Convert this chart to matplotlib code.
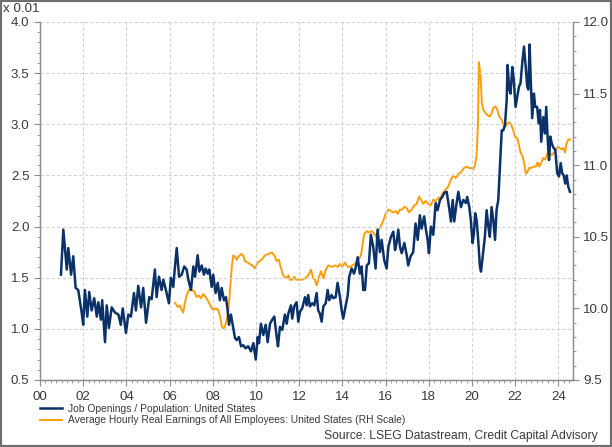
import matplotlib
matplotlib.use("Agg")
import matplotlib.pyplot as plt
from matplotlib.ticker import MultipleLocator, FixedLocator
from matplotlib.patches import Rectangle

plt.rcParams['font.family'] = ['Liberation Sans', 'DejaVu Sans']

# Job openings / population (left scale, x 0.01), decimal years
job_years = [
    2000.97, 2001.08, 2001.24, 2001.31, 2001.44, 2001.54, 2001.65, 2001.77, 2001.93, 2002.00,
    2002.08, 2002.19, 2002.28, 2002.39, 2002.51, 2002.63, 2002.70, 2002.82, 2002.88, 2003.01,
    2003.09, 2003.19, 2003.32, 2003.47, 2003.63, 2003.74, 2003.83, 2003.98, 2004.09, 2004.21,
    2004.35, 2004.44, 2004.55, 2004.68, 2004.78, 2004.91, 2005.06, 2005.17, 2005.32, 2005.40,
    2005.51, 2005.63, 2005.71, 2005.83, 2005.97, 2006.06, 2006.17, 2006.25, 2006.33, 2006.44,
    2006.56, 2006.68, 2006.79, 2006.87, 2006.99, 2007.10, 2007.18, 2007.30, 2007.38, 2007.49,
    2007.59, 2007.67, 2007.76, 2007.84, 2007.95, 2008.02, 2008.13, 2008.23, 2008.33, 2008.41,
    2008.52, 2008.61, 2008.69, 2008.75, 2008.84, 2008.95, 2009.03, 2009.11, 2009.21, 2009.31,
    2009.41, 2009.52, 2009.64, 2009.77, 2009.88, 2009.99, 2010.08, 2010.14, 2010.23, 2010.34,
    2010.45, 2010.54, 2010.65, 2010.75, 2010.85, 2010.96, 2011.02, 2011.11, 2011.22, 2011.34,
    2011.42, 2011.50, 2011.62, 2011.68, 2011.77, 2011.88, 2011.96, 2012.04, 2012.14, 2012.27,
    2012.35, 2012.42, 2012.50, 2012.61, 2012.70, 2012.81, 2012.88, 2012.96, 2013.04, 2013.12,
    2013.23, 2013.32, 2013.39, 2013.50, 2013.58, 2013.69, 2013.78, 2013.89, 2013.97, 2014.04,
    2014.15, 2014.25, 2014.32, 2014.43, 2014.54, 2014.63, 2014.71, 2014.81, 2014.89, 2014.97,
    2015.05, 2015.13, 2015.23, 2015.32, 2015.43, 2015.54, 2015.63, 2015.74, 2015.82, 2015.94,
    2016.05, 2016.13, 2016.25, 2016.36, 2016.44, 2016.51, 2016.59, 2016.67, 2016.75, 2016.87,
    2016.98, 2017.05, 2017.16, 2017.28, 2017.39, 2017.49, 2017.59, 2017.67, 2017.79, 2017.87,
    2017.95, 2018.01, 2018.10, 2018.21, 2018.32, 2018.41, 2018.52, 2018.63, 2018.72, 2018.83,
    2018.94, 2019.03, 2019.11, 2019.18, 2019.29, 2019.37, 2019.49, 2019.60, 2019.72, 2019.78,
    2019.88, 2019.95, 2020.03, 2020.09, 2020.15, 2020.22, 2020.29, 2020.37, 2020.42, 2020.50,
    2020.60, 2020.68, 2020.76, 2020.83, 2020.91, 2020.99, 2021.07, 2021.14, 2021.22, 2021.30,
    2021.38, 2021.45, 2021.53, 2021.61, 2021.65, 2021.73, 2021.79, 2021.87, 2021.94, 2022.02,
    2022.10, 2022.18, 2022.25, 2022.33, 2022.41, 2022.49, 2022.56, 2022.61, 2022.67, 2022.73,
    2022.79, 2022.87, 2022.93, 2023.02, 2023.09, 2023.15, 2023.21, 2023.30, 2023.38, 2023.44,
    2023.51, 2023.57, 2023.63, 2023.70, 2023.78, 2023.86, 2023.95, 2024.03, 2024.11, 2024.18,
    2024.25, 2024.32, 2024.39, 2024.46, 2024.54,
]
job_values = [
    1.53, 1.97, 1.58, 1.79, 1.53, 1.71, 1.40, 1.38, 1.16, 1.04,
    1.38, 1.12, 1.36, 1.18, 1.30, 1.12, 1.26, 1.09, 1.28, 0.87,
    1.23, 1.01, 1.21, 1.16, 1.14, 1.04, 1.20, 0.96, 1.14, 1.12,
    1.35, 1.18, 1.42, 1.21, 1.40, 1.06, 1.31, 1.29, 1.58, 1.31,
    1.51, 1.38, 1.48, 1.38, 1.25, 1.50, 1.41, 1.61, 1.79, 1.51,
    1.53, 1.61, 1.58, 1.48, 1.38, 1.61, 1.51, 1.72, 1.56, 1.62,
    1.53, 1.59, 1.54, 1.58, 1.41, 1.53, 1.35, 1.45, 1.28, 1.40,
    1.28, 1.31, 1.18, 1.04, 1.14, 1.01, 0.91, 0.89, 0.92, 0.83,
    0.84, 0.81, 0.83, 0.78, 0.86, 0.70, 0.92, 0.86, 1.05, 0.94,
    1.04, 0.87, 1.05, 1.09, 1.12, 0.92, 0.83, 1.02, 0.99, 1.14,
    1.05, 1.15, 1.23, 1.10, 1.22, 1.26, 1.07, 1.17, 1.20, 1.31,
    1.23, 1.33, 1.22, 1.25, 1.23, 1.35, 1.18, 1.15, 1.07, 1.22,
    1.25, 1.38, 1.28, 1.33, 1.30, 1.31, 1.45, 1.31, 1.18, 1.10,
    1.22, 1.33, 1.51, 1.59, 1.54, 1.61, 1.70, 1.54, 1.61, 1.38,
    1.38, 1.62, 1.64, 1.92, 1.80, 1.59, 1.97, 1.75, 1.87, 1.67,
    1.59, 1.80, 1.90, 1.95, 1.77, 1.84, 1.97, 1.80, 1.74, 1.84,
    1.72, 1.62, 1.71, 1.75, 2.03, 1.87, 2.11, 1.98, 2.10, 1.97,
    1.87, 1.74, 2.00, 1.92, 2.23, 2.16, 2.26, 2.29, 2.33, 2.34,
    2.19, 2.05, 2.26, 2.05, 2.23, 2.34, 2.19, 2.26, 2.23, 2.29,
    2.19, 2.06, 1.84, 1.93, 2.13, 2.06, 1.87, 1.61, 1.56, 1.71,
    1.90, 2.16, 2.00, 1.90, 2.19, 2.06, 1.87, 2.16, 2.26, 2.59,
    2.94, 2.94, 2.99, 3.24, 3.58, 3.34, 3.30, 3.56, 3.43, 3.17,
    3.27, 3.37, 3.40, 3.60, 3.76, 3.56, 3.37, 3.34, 3.78, 3.40,
    3.06, 3.30, 3.17, 3.17, 3.01, 3.14, 2.83, 3.07, 2.91, 3.17,
    2.85, 2.65, 2.88, 2.81, 2.77, 2.75, 2.52, 2.49, 2.62, 2.52,
    2.50, 2.42, 2.50, 2.39, 2.34,
]

# Average hourly real earnings (right scale)
earn_years = [
    2006.25, 2006.38, 2006.48, 2006.56, 2006.63, 2006.71, 2006.79, 2006.90, 2007.02, 2007.14,
    2007.25, 2007.36, 2007.45, 2007.56, 2007.67, 2007.79, 2007.92, 2008.02, 2008.13, 2008.25,
    2008.33, 2008.41, 2008.49, 2008.56, 2008.64, 2008.72, 2008.80, 2008.88, 2008.95, 2009.03,
    2009.11, 2009.18, 2009.31, 2009.41, 2009.49, 2009.62, 2009.72, 2009.83, 2009.95, 2010.08,
    2010.26, 2010.42, 2010.57, 2010.73, 2010.85, 2010.96, 2011.06, 2011.16, 2011.26, 2011.38,
    2011.50, 2011.57, 2011.68, 2011.77, 2011.88, 2011.99, 2012.12, 2012.27, 2012.42, 2012.55,
    2012.65, 2012.73, 2012.81, 2012.92, 2013.01, 2013.12, 2013.23, 2013.35, 2013.50, 2013.66,
    2013.78, 2013.89, 2014.00, 2014.12, 2014.25, 2014.35, 2014.46, 2014.58, 2014.74, 2014.86,
    2014.92, 2015.01, 2015.13, 2015.23, 2015.36, 2015.48, 2015.56, 2015.66, 2015.79, 2015.89,
    2016.00, 2016.13, 2016.25, 2016.36, 2016.47, 2016.56, 2016.67, 2016.77, 2016.87, 2016.98,
    2017.08, 2017.21, 2017.33, 2017.44, 2017.55, 2017.64, 2017.75, 2017.86, 2017.98, 2018.10,
    2018.21, 2018.32, 2018.44, 2018.56, 2018.67, 2018.78, 2018.90, 2019.03, 2019.13, 2019.25,
    2019.37, 2019.49, 2019.63, 2019.75, 2019.88, 2019.99, 2020.06, 2020.14, 2020.22, 2020.28,
    2020.32, 2020.40, 2020.46, 2020.52, 2020.60, 2020.71, 2020.83, 2020.91, 2020.99, 2021.08,
    2021.17, 2021.24, 2021.30, 2021.38, 2021.45, 2021.54, 2021.63, 2021.73, 2021.79, 2021.88,
    2021.99, 2022.10, 2022.16, 2022.25, 2022.35, 2022.42, 2022.50, 2022.56, 2022.64, 2022.73,
    2022.84, 2022.96, 2023.04, 2023.12, 2023.19, 2023.30, 2023.39, 2023.49, 2023.58, 2023.66,
    2023.76, 2023.89, 2024.00, 2024.07, 2024.15, 2024.23, 2024.31, 2024.38, 2024.46, 2024.54,
]
earn_values = [
    10.04, 10.01, 10.02, 9.99, 9.97, 10.04, 10.09, 10.13, 10.13, 10.12,
    10.08, 10.09, 10.07, 10.10, 10.08, 10.05, 10.01, 9.99, 10.00, 9.99,
    9.95, 9.88, 9.86, 9.87, 9.92, 9.98, 10.13, 10.29, 10.37, 10.36,
    10.34, 10.36, 10.38, 10.37, 10.33, 10.32, 10.31, 10.30, 10.28, 10.32,
    10.34, 10.37, 10.38, 10.39, 10.37, 10.33, 10.34, 10.28, 10.23, 10.21,
    10.23, 10.20, 10.20, 10.22, 10.20, 10.20, 10.20, 10.21, 10.23, 10.27,
    10.21, 10.20, 10.16, 10.22, 10.26, 10.21, 10.27, 10.30, 10.29, 10.30,
    10.29, 10.31, 10.29, 10.32, 10.29, 10.29, 10.30, 10.31, 10.34, 10.37,
    10.43, 10.52, 10.54, 10.53, 10.54, 10.52, 10.50, 10.54, 10.58, 10.61,
    10.66, 10.69, 10.68, 10.67, 10.68, 10.66, 10.69, 10.69, 10.71, 10.70,
    10.67, 10.69, 10.72, 10.73, 10.78, 10.76, 10.73, 10.75, 10.73, 10.72,
    10.76, 10.75, 10.77, 10.78, 10.81, 10.83, 10.85, 10.90, 10.93, 10.91,
    10.94, 10.95, 10.98, 10.99, 10.98, 10.98, 10.97, 11.00, 11.08, 11.29,
    11.72, 11.62, 11.43, 11.39, 11.37, 11.35, 11.34, 11.36, 11.40, 11.41,
    11.39, 11.35, 11.33, 11.32, 11.28, 11.27, 11.29, 11.30, 11.29, 11.26,
    11.20, 11.19, 11.15, 11.09, 11.06, 11.01, 10.94, 10.95, 10.98, 10.98,
    10.99, 10.99, 11.02, 10.99, 11.01, 11.05, 11.04, 11.08, 11.11, 11.07,
    11.08, 11.11, 11.13, 11.12, 11.11, 11.12, 11.09, 11.15, 11.18, 11.18,
]

year_ticks = list(range(2000, 2025, 2))
year_labels = ["00", "02", "04", "06", "08", "10", "12", "14", "16", "18", "20", "22", "24"]

job_label = "Job Openings / Population: United States"
earn_label = "Average Hourly Real Earnings of All Employees: United States (RH Scale)"
source_text = "Source: LSEG Datastream, Credit Capital Advisory"

BLUE = "#0b3268"
ORANGE = "#ff9d0a"
TEXT = "#3a3a3a"
SPINE = "#8c8c8c"


def style_axis(ax):
    ax.tick_params(axis="both", which="major", direction="out", length=4,
                   width=0.8, color=SPINE, labelcolor=TEXT, labelsize=9.6)
    ax.tick_params(axis="both", which="minor", direction="out", length=2,
                   width=0.6, color=SPINE)
    for side in ax.spines:
        ax.spines[side].set_color(SPINE)
        ax.spines[side].set_linewidth(0.9)
    ax.spines["top"].set_visible(False)


def main():
    fig = plt.figure(figsize=(6.12, 4.47), dpi=100)
    ax = fig.add_axes([40 / 612, 1 - 380 / 447, 533 / 612, 358 / 447])
    ax2 = ax.twinx()

    l1, = ax.plot(job_years, job_values, color=BLUE, lw=1.8, label=job_label, zorder=3)
    l2, = ax2.plot(earn_years, earn_values, color=ORANGE, lw=1.4, label=earn_label, zorder=2)
    ax.set_zorder(ax2.get_zorder() + 1)
    ax.patch.set_visible(False)

    ax.set_xlim(2000, 2024.68)
    ax.set_ylim(0.5, 4.0)
    ax2.set_ylim(9.5, 12.0)

    ax.xaxis.set_major_locator(FixedLocator(year_ticks))
    ax.set_xticklabels(year_labels)
    ax.xaxis.set_minor_locator(MultipleLocator(0.25))
    ax.yaxis.set_major_locator(MultipleLocator(0.5))
    ax.yaxis.set_minor_locator(MultipleLocator(0.1))
    ax.yaxis.set_major_formatter(plt.FormatStrFormatter("%.1f"))
    ax2.yaxis.set_major_locator(MultipleLocator(0.5))
    ax2.yaxis.set_minor_locator(MultipleLocator(0.1))
    ax2.yaxis.set_major_formatter(plt.FormatStrFormatter("%.1f"))

    style_axis(ax)
    style_axis(ax2)
    ax.tick_params(axis="x", pad=4)

    ax.grid(True, which="major", color="#d2d2d2", linestyle=(0, (3, 2)), linewidth=0.8)

    fig.text(3 / 612, 1 - 9 / 447, "x 0.01", fontsize=9.6, color=TEXT, va="center", ha="left")

    fig.legend(handles=[l1, l2], loc="upper left", bbox_to_anchor=(40 / 612, 1 - 404 / 447),
               frameon=False, fontsize=7.4, handlelength=2.1, handletextpad=0.6,
               labelspacing=0.12, borderaxespad=0, borderpad=0, labelcolor=TEXT)

    fig.text(598 / 612, 1 - 436 / 447, source_text, fontsize=8.7, color=TEXT,
             ha="right", va="center")

    fig.patches.append(Rectangle((0, 0), 1, 1, transform=fig.transFigure, fill=False,
                                 edgecolor="#6e6e6e", linewidth=3, zorder=10))

    fig.savefig("out.png", dpi=100)


if __name__ == "__main__":
    main()
